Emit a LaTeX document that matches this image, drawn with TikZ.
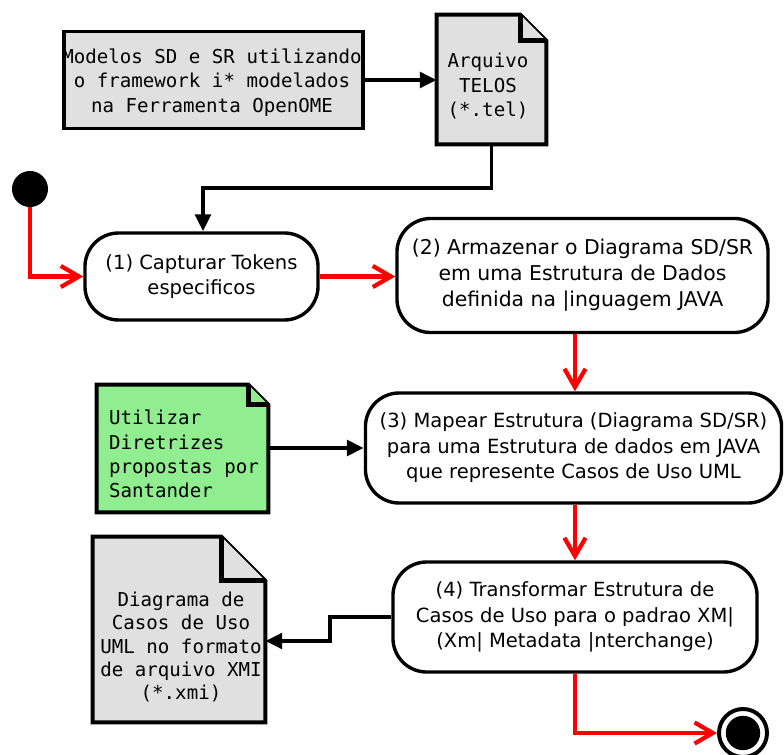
\documentclass[tikz,border=0pt]{standalone}
\usepackage{fontspec}
\setmainfont{DejaVu Sans}
\setmonofont{DejaVu Sans Mono}
\usetikzlibrary{arrows.meta, backgrounds}

\definecolor{docgray}{RGB}{224,224,224}
\definecolor{notegreen}{RGB}{144,238,144}

% outline of a document node with a folded corner
\newcommand{\docfold}[3]{%
    \draw[docline, fill=#3] (#1.south west) -- (#1.north west)
        -- ([xshift=-#2]#1.north east) -- ([yshift=-#2]#1.north east)
        -- (#1.south east) -- cycle;
    \draw[docline, line width = 3.6pt, fill=#3] ([xshift=-#2]#1.north east)
        -- ([xshift=-#2, yshift=-#2]#1.north east) -- ([yshift=-#2]#1.north east);
}

\begin{document}
\begin{tikzpicture}[
            x = 0.025cm, y = -0.025cm, % one unit = one pixel, y downwards
            > = {Triangle[length=12pt, width=11pt]}, % arrow head style
            line join = miter
        ]

        \tikzstyle{docline}=[line width = 2.8pt]

        \tikzstyle{activity}=[
            draw = black,
            line width = 2.4pt,
            rounded corners = 24pt,
            align = center,
            inner sep = 0pt,
            font = \fontsize{13.9pt}{18.2pt}\selectfont
        ]

        \tikzstyle{doc}=[
            align = center,
            inner sep = 0pt,
            font = \ttfamily\fontsize{13.6pt}{17.2pt}\selectfont
        ]

        \tikzstyle{flow}=[->, line width = 2.8pt]
        \tikzstyle{ctrl}=[-{Straight Barb[length=13pt, width=15pt]}, red, line width = 3pt]

        \useasboundingbox (0,0) rectangle (784,755);

        % inputs and outputs
        \node[doc, draw, line width = 2.8pt, fill = docgray, minimum width = 7.475cm, minimum height = 2.425cm,
            font = \ttfamily\fontsize{13.6pt}{17.6pt}\selectfont] (models) at (213.5,80) {};
        \node[doc, font = \ttfamily\fontsize{13.6pt}{17.6pt}\selectfont] (modelstext) at (212,82.5)
            {Modelos SD e SR utilizando\\o framework i* modelados\\na Ferramenta OpenOME};
        \node[doc, minimum width = 2.725cm, minimum height = 3.225cm] (telos) at (491.5,79.5) {};
        \node[doc] (telostext) at (488,86) {Arquivo\\TELOS\\(*.tel)};
        \node[doc, minimum width = 4.275cm, minimum height = 3.175cm] (rules) at (182.5,448.5) {};
        \node[doc, align = left] (rulestext) at (184,454) {Utilizar\\Diretrizes\\propostas por\\Santander};
        \node[doc, minimum width = 4.3cm, minimum height = 4.625cm] (xmi) at (179,629.5) {};
        \node[doc, font = \ttfamily\fontsize{13.6pt}{16.7pt}\selectfont] (xmitext) at (181,647)
            {Diagrama de\\Casos de Uso\\UML no formato\\de arquivo XMI\\(*.xmi)};

        % activities
        \node[circle, fill = black, minimum size = 0.9cm, inner sep = 0pt] (start) at (30,189) {};
        \node[activity, minimum width = 5.825cm, minimum height = 2.175cm] (capture) at (201.5,276.5)
            {(1) Capturar Tokens\\especificos};
        \node[activity, minimum width = 9.275cm, minimum height = 2.85cm,
            font = \fontsize{14.5pt}{18.4pt}\selectfont] (store) at (582.5,275.5)
            {(2) Armazenar o Diagrama SD/SR\\em uma Estrutura de Dados\\definida na |inguagem JAVA};
        \node[activity, minimum width = 10.4cm, minimum height = 2.75cm] (map) at (573.5,448)
            {(3) Mapear Estrutura (Diagrama SD/SR)\\para uma Estrutura de dados em JAVA\\que represente Casos de Uso UML};
        \node[activity, minimum width = 9.1cm, minimum height = 2.75cm] (transform) at (575,617)
            {(4) Transformar Estrutura de\\Casos de Uso para o padrao XM|\\(Xm| Metadata |nterchange)};
        \node[circle, draw, line width = 2.8pt, minimum size = 1.2cm, inner sep = 0pt,
            path picture = {\fill[black] (path picture bounding box.center) circle (0.43cm);}] (end) at (743,733) {};

        \begin{scope}[on background layer]
            \docfold{telos}{0.65cm}{docgray}
            \docfold{rules}{0.5cm}{notegreen}
            \docfold{xmi}{1.1cm}{docgray}
        \end{scope}

        \coordinate (j1) at (203,188);
        \coordinate (j2) at (330,617);
        \coordinate (j3) at (330,641);

        \draw[flow] (models.east) -- (models.east -| telos.west);
        \draw[flow] (telos.south) |- (j1) -- (j1 |- capture.north);
        \draw[flow] (rules.east |- map.west) -- (map.west);
        \draw[flow] (transform.west) -- (j2) -- (j3) -- (j3 -| xmi.east);

        \draw[ctrl] (start.south) |- (capture.west);
        \draw[ctrl] (capture.east) -- (capture.east -| store.west);
        \draw[ctrl] (store.south -| transform.north) -- (map.north -| transform.north);
        \draw[ctrl] (map.south -| transform.north) -- (transform.north);
        \draw[ctrl] (transform.south) |- (end.west);

    \end{tikzpicture}
\end{document}
